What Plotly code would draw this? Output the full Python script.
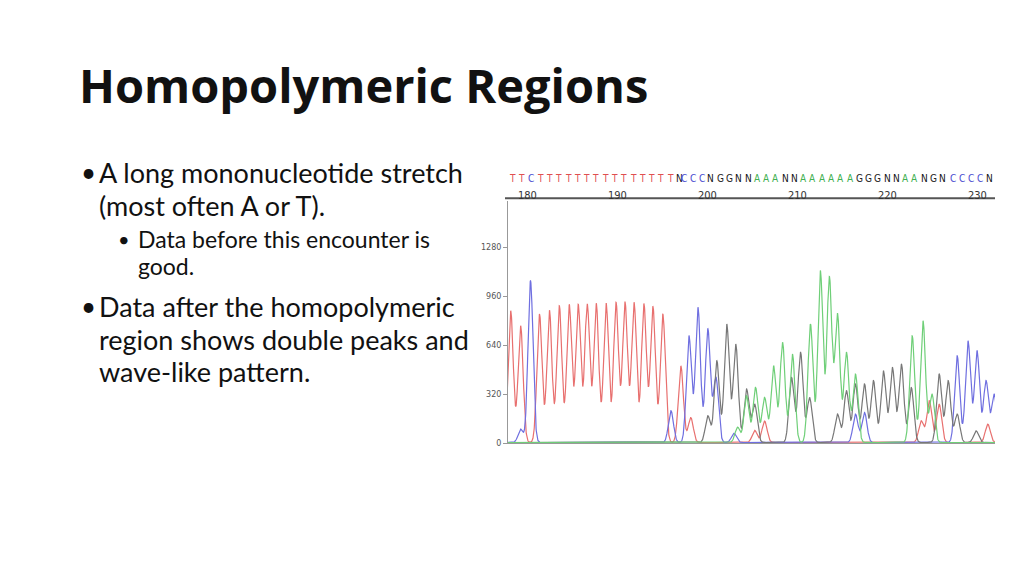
import numpy as np
import plotly.graph_objects as go

# Peak positions (base units) and heights (signal), per dye
red_pos = [179.4, 180.5, 182.6, 183.7, 184.8, 185.9, 186.9, 187.9, 188.9, 190.0, 191.1, 192.1, 193.1, 194.2, 195.2, 196.3, 198.3, 199.4, 206.5, 207.6, 225.0, 225.9, 227.0, 232.4]
red_h   = [860, 762, 838, 864, 893, 900, 900, 903, 908, 910, 914, 914, 914, 903, 886, 838, 500, 163, 80, 140, 140, 272, 250, 120]
blue_pos = [180.5, 181.6, 197.2, 199.2, 200.2, 201.3, 202.2, 204.2, 217.7, 218.7, 229.0, 230.2, 231.2, 232.2, 233.1]
blue_h   = [87, 1056, 207, 697, 882, 740, 424, 60, 185, 196, 566, 664, 599, 403, 316]
black_pos = [201.3, 202.3, 203.4, 204.4, 205.6, 206.5, 210.6, 211.6, 212.6, 215.7, 216.7, 217.7, 218.7, 219.7, 220.8, 221.8, 222.8, 223.9, 227.0, 228.0, 229.0, 231.1]
black_h   = [174, 533, 773, 642, 348, 250, 424, 588, 294, 185, 337, 381, 381, 403, 468, 490, 512, 359, 446, 403, 185, 76]
green_pos = [204.6, 205.6, 206.6, 207.6, 208.6, 209.6, 210.7, 212.7, 213.8, 214.8, 215.7, 216.7, 217.7, 224.0, 225.2, 226.2]
green_h   = [100, 305, 359, 294, 500, 653, 577, 773, 1121, 1078, 838, 588, 446, 697, 795, 316]

bases = "TTCTTTTTTTTTTTTTTTNCCCNGGNNAAANNAAAAAAGGGNNAANGNCCCCN"
base_start, base_step = 179.6, 1.03
pos_ticks = [180, 190, 200, 210, 220, 230]
y_ticks = [0, 320, 640, 960, 1280]

X0, X1 = 179.1, 233.2
PX0, PX1 = 508, 995
def xpaper(v):
    return (PX0 + (v - X0) / (X1 - X0) * (PX1 - PX0)) / 1024

xs = np.linspace(179.0, 233.3, 3000)
def trace_curve(pos, h, sigma=0.28):
    y = np.zeros_like(xs)
    for p, a in zip(pos, h):
        y += a * np.exp(-0.5 * ((xs - p) / sigma) ** 2)
    return y + 4

fig = go.Figure()
for pos, h, col in [(red_pos, red_h, "#e8706f"), (blue_pos, blue_h, "#6f6fe0"),
                    (black_pos, black_h, "#777777"), (green_pos, green_h, "#6fcf78")]:
    fig.add_trace(go.Scatter(x=xs, y=trace_curve(pos, h), mode="lines",
                             line=dict(color=col, width=1.2), hoverinfo="skip"))

colmap = {"T": "#e05050", "C": "#4a4ad0", "A": "#40b050", "G": "#222222", "N": "#111111"}
anns = []
for i, b in enumerate(bases):
    xv = base_start + i * base_step
    if xv > X1:
        break
    anns.append(dict(x=xpaper(xv), y=1 - 172 / 575, xref="paper", yref="paper", text=b,
                     showarrow=False, font=dict(family="DejaVu Sans Condensed", size=10, color=colmap[b])))
for t in pos_ticks:
    anns.append(dict(x=xpaper(t), y=1 - 189 / 575, xref="paper", yref="paper", text=str(t), showarrow=False,
                     xanchor="left", font=dict(family="DejaVu Sans Condensed", size=11, color="#333")))

anns.append(dict(x=77 / 1024, y=1 - 86 / 575, xref="paper", yref="paper", text="<b>Homopolymeric Regions</b>",
                 showarrow=False, xanchor="left", yanchor="middle",
                 font=dict(family="Open Sans", size=47, color="#111")))
body = [
    (79, 174, "•", 26), (97, 174, "A long mononucleotide stretch", 27), (97, 207, "(most often A or T).", 27),
    (116, 241, "•", 20), (136, 241, "Data before this encounter is", 23), (136, 268, "good.", 23),
    (79, 309, "•", 26), (97, 309, "Data after the homopolymeric", 27), (97, 342, "region shows double peaks and", 27),
    (97, 375, "wave-like pattern.", 27),
]
for x, y, t, s in body:
    anns.append(dict(x=x / 1024, y=1 - y / 575, xref="paper", yref="paper", text=t, showarrow=False,
                     xanchor="left", yanchor="middle", font=dict(family="Lato", size=s, color="#111")))

fig.update_layout(
    width=1024, height=575, margin=dict(l=0, r=0, t=0, b=0),
    paper_bgcolor="white", plot_bgcolor="white", showlegend=False,
    annotations=anns,
    xaxis=dict(domain=[PX0 / 1024, PX1 / 1024], range=[X0, X1], showticklabels=False,
               showgrid=False, zeroline=False, showline=True, linecolor="#999", mirror=False),
    yaxis=dict(domain=[128 / 575, 372 / 575], range=[0, 1580], tickvals=y_ticks,
               ticks="outside", ticklen=4, tickcolor="#999", tickfont=dict(size=8, color="#555", family="DejaVu Sans"),
               showgrid=False, zeroline=False, showline=True, linecolor="#999"),
    shapes=[dict(type="line", xref="paper", yref="paper", x0=505 / 1024, x1=995 / 1024,
                 y0=1 - 200 / 575, y1=1 - 200 / 575, line=dict(color="#555", width=2))],
)
fig.write_html("out.html", config={"displayModeBar": False}, post_script="document.body.style.margin='0';")
